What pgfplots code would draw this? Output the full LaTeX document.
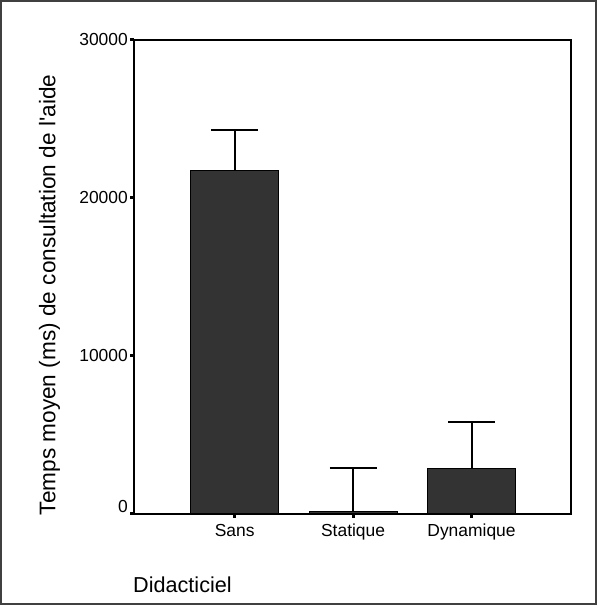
\documentclass[border=0pt]{standalone}
\usepackage{fontspec}
\setmainfont{Liberation Sans}
\usepackage{pgfplots}
\pgfplotsset{compat=1.18}
\definecolor{barfill}{HTML}{333333}
\begin{document}
\begin{tikzpicture}[x=1bp,y=1bp]
\useasboundingbox (0,0) rectangle (597,605);
\draw[line width=1.2bp, black!75] (1,1) rectangle (596,604);
\begin{axis}[
  at={(134bp,91bp)}, anchor=south west,
  scale only axis, width=437bp, height=474bp,
  xmin=-0.85, xmax=2.84, ymin=0, ymax=30000,
  xtick={0,1,2}, xticklabels={Sans,Statique,Dynamique},
  ytick={0,10000,20000,30000},
  yticklabels={\raisebox{16bp}{0},10000,20000,30000},
  scaled y ticks=false,
  tick align=outside, major tick length=4bp,
  xtick pos=bottom, ytick pos=left,
  tick style={line width=3bp, black},
  axis line style={line width=1.5bp, black},
  ticklabel style={font=\fontsize{17.5}{20}\selectfont},
  xticklabel style={inner sep=6bp},
  yticklabel style={inner sep=2bp},
  /pgf/number format/assume math mode=true,
  ybar, bar width=88bp,
]
\addplot[ybar, fill=barfill, draw=black, line width=1bp,
  error bars/.cd, y dir=plus, y explicit,
  error bar style={line width=2bp, black},
  error mark options={line width=2bp, black, mark size=23.5bp, rotate=90}]
  coordinates {
    (0,21710) +- (0,2610)
    (1,150) +- (0,2780)
    (2,2870) +- (0,2950)
  };
\end{axis}
\node[rotate=90, inner sep=0pt, font=\fontsize{22.7}{26}\selectfont] at (49.5,310) {Temps moyen (ms) de consultation de l\textquotesingle aide};
\node[anchor=base west, inner sep=0pt, font=\fontsize{21.7}{26}\selectfont] at (133,12) {Didacticiel};
\end{tikzpicture}
\end{document}
